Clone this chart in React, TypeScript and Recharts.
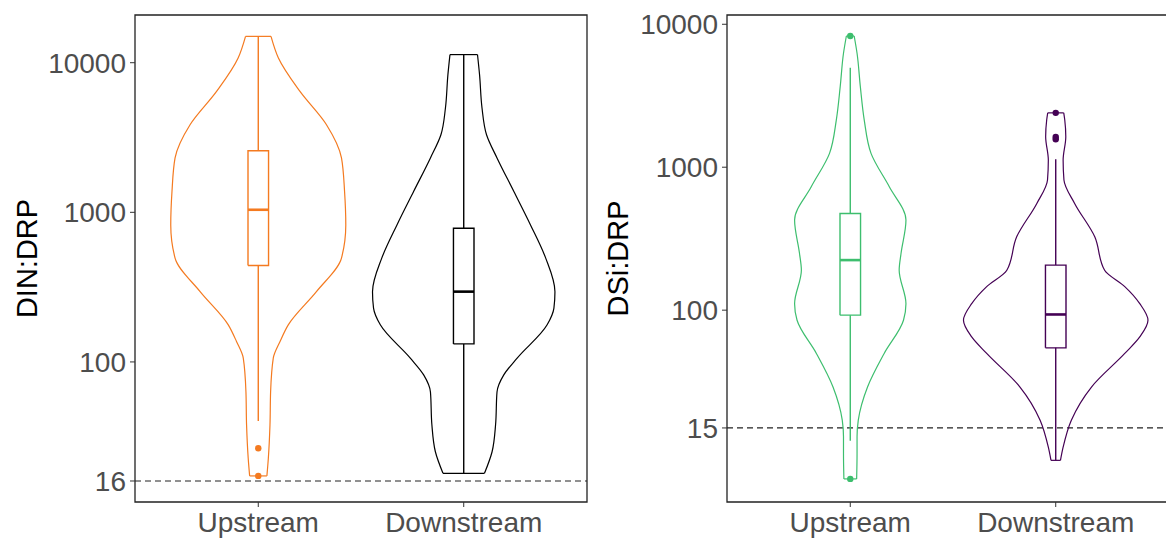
import React from "react"
import { ComposedChart, Scatter, XAxis, YAxis, ReferenceLine, ReferenceArea } from "recharts"

// category positions on the x axis
const categories = ["Upstream", "Downstream"]
const categoryPos = [1, 2]

// ---- DIN:DRP panel ----
const dinTicks = [16, 100, 1000, 10000]
const dinThreshold = 16
// violin outlines: ratio level -> half width (in category units)
const dinUpLevels = [17.3, 22.7, 38, 63, 106, 137, 177, 295, 494, 824, 1378, 2310, 3850, 6430, 10750, 15000]
const dinUpWidths = [0.042, 0.049, 0.057, 0.06, 0.073, 0.106, 0.146, 0.283, 0.405, 0.426, 0.42, 0.405, 0.332, 0.203, 0.098, 0.062]
const dinDownLevels = [18, 25.1, 38, 63, 81.9, 106, 177, 229, 295, 494, 824, 1378, 2310, 3300, 4980, 8320, 11330]
const dinDownWidths = [0.101, 0.138, 0.155, 0.162, 0.195, 0.26, 0.406, 0.439, 0.444, 0.399, 0.325, 0.244, 0.162, 0.111, 0.089, 0.077, 0.067]
// box stats: [lower whisker, q1, median, q3, upper whisker]
const dinUpBox = [40.3, 441, 1040, 2578, 15000]
const dinDownBox = [18, 132, 295, 783, 11330]
const dinUpOutliers = [26.5, 17.3]
const dinDownOutliers: number[] = []

// ---- DSi:DRP panel ----
const dsiTicks = [15, 100, 1000, 10000]
const dsiThreshold = 15
const dsiUpLevels = [6.6, 9.9, 13, 17, 29, 49.8, 85, 111, 190, 249, 427, 730, 1250, 2138, 3660, 6270, 8280]
const dsiUpWidths = [0.031, 0.033, 0.033, 0.039, 0.084, 0.165, 0.259, 0.271, 0.238, 0.247, 0.271, 0.19, 0.101, 0.068, 0.049, 0.033, 0.019]
const dsiDownLevels = [8.9, 11, 17, 29, 49.8, 65, 85, 111, 146, 190, 326, 558, 813, 1122, 1634, 2138, 2400]
const dsiDownWidths = [0.023, 0.036, 0.076, 0.174, 0.336, 0.409, 0.449, 0.409, 0.336, 0.238, 0.19, 0.092, 0.04, 0.036, 0.049, 0.044, 0.039]
const dsiUpBox = [12.2, 92.3, 224, 475, 4970]
const dsiDownBox = [8.9, 54.5, 93.3, 206.6, 1135]
const dsiUpOutliers = [8280, 6.6]
const dsiDownOutliers = [2400, 1570, 1630]

const FONT = "'Liberation Sans', Arial, sans-serif"
const BOX_HALF = 0.05
const noShape = () => <g />

function violinSeries(key: string, center: number, levels: number[], widths: number[], color: string) {
  const idx = levels.map((_, i) => i).reverse()
  const right = idx.map((i) => ({ x: center + widths[i], y: levels[i] }))
  const left = idx.map((i) => ({ x: center - widths[i], y: levels[i] }))
  const n = levels.length - 1
  const top = [{ x: center - widths[n], y: levels[n] }, { x: center + widths[n], y: levels[n] }]
  const bottom = [{ x: center - widths[0], y: levels[0] }, { x: center + widths[0], y: levels[0] }]
  const lineStyle = { stroke: color, strokeWidth: 1.2 }
  return [
    <Scatter key={key + "r"} data={right} line={lineStyle} lineJointType="monotoneY" shape={noShape} fill={color} isAnimationActive={false} />,
    <Scatter key={key + "l"} data={left} line={lineStyle} lineJointType="monotoneY" shape={noShape} fill={color} isAnimationActive={false} />,
    <Scatter key={key + "t"} data={top} line={lineStyle} shape={noShape} fill={color} isAnimationActive={false} />,
    <Scatter key={key + "b"} data={bottom} line={lineStyle} shape={noShape} fill={color} isAnimationActive={false} />,
  ]
}

function boxSeries(key: string, center: number, stats: number[], outliers: number[], color: string) {
  const [lo, q1, med, q3, hi] = stats
  const rect = [
    { x: center - BOX_HALF, y: q1 },
    { x: center + BOX_HALF, y: q1 },
    { x: center + BOX_HALF, y: q3 },
    { x: center - BOX_HALF, y: q3 },
    { x: center - BOX_HALF, y: q1 },
  ]
  const style = { stroke: color, strokeWidth: 1.4 }
  return [
    <Scatter key={key + "box"} data={rect} line={style} shape={noShape} fill={color} isAnimationActive={false} />,
    <Scatter key={key + "med"} data={[{ x: center - BOX_HALF, y: med }, { x: center + BOX_HALF, y: med }]} line={{ stroke: color, strokeWidth: 2.6 }} shape={noShape} fill={color} isAnimationActive={false} />,
    <Scatter key={key + "wu"} data={[{ x: center, y: q3 }, { x: center, y: hi }]} line={style} shape={noShape} fill={color} isAnimationActive={false} />,
    <Scatter key={key + "wl"} data={[{ x: center, y: lo }, { x: center, y: q1 }]} line={style} shape={noShape} fill={color} isAnimationActive={false} />,
    <Scatter key={key + "out"} data={outliers.map((v) => ({ x: center, y: v }))} fill={color} shape={(p: any) => <circle cx={p.cx} cy={p.cy} r={3.2} fill={color} />} isAnimationActive={false} />,
  ]
}

const AxisTitle = ({ viewBox, title, titleX }: any) => {
  const cy = viewBox ? viewBox.y + viewBox.height / 2 : 258
  return (
    <text x={titleX} y={cy} transform={`rotate(-90, ${titleX}, ${cy})`} textAnchor="middle" dominantBaseline="central" fontSize={29} fill="#000" fontFamily={FONT}>
      {title}
    </text>
  )
}

interface PanelProps {
  title: string
  titleX: number
  axisWidth: number
  domain: [number, number]
  ticks: number[]
  threshold: number
  children: React.ReactNode
}

function Panel({ title, titleX, axisWidth, domain, ticks, threshold, children }: PanelProps) {
  const tickStyle = { fontSize: 28, fill: "#4D4D4D", fontFamily: FONT }
  return (
    <ComposedChart width={600} height={539} margin={{ top: 15, right: 600 - axisWidth - 452, bottom: 0, left: 0 }}>
      <XAxis
        type="number"
        dataKey="x"
        domain={[0.4, 2.6]}
        ticks={categoryPos}
        tickFormatter={(v) => categories[categoryPos.indexOf(v)] ?? ""}
        allowDataOverflow
        height={37}
        axisLine={false}
        tickSize={5}
        tickMargin={5}
        tickLine={{ stroke: "#333333" }}
        tick={tickStyle}
      />
      <YAxis
        type="number"
        dataKey="y"
        scale="log"
        domain={domain}
        ticks={ticks}
        allowDataOverflow
        width={axisWidth}
        axisLine={false}
        tickSize={5}
        tickMargin={4}
        tickLine={{ stroke: "#333333" }}
        tick={tickStyle}
        label={<AxisTitle title={title} titleX={titleX} />}
      />
      <ReferenceArea x1={0.4} x2={2.6} y1={domain[0]} y2={domain[1]} fill="none" stroke="#222222" strokeWidth={1.3} />
      <ReferenceLine y={threshold} stroke="#222222" strokeWidth={1.2} strokeDasharray="6 4" />
      {children}
    </ComposedChart>
  )
}

export default function App() {
  return (
    <div style={{ position: "fixed", left: 0, top: 0, width: 1166, height: 539, overflow: "hidden", background: "#fff" }}>
      <div style={{ position: "absolute", left: 0, top: 0 }}>
        <Panel title="DIN:DRP" titleX={27} axisWidth={135} domain={[11.58, 20840]} ticks={dinTicks} threshold={dinThreshold}>
          {violinSeries("du", categoryPos[0], dinUpLevels, dinUpWidths, "#F47A20")}
          {violinSeries("dd", categoryPos[1], dinDownLevels, dinDownWidths, "#000000")}
          {boxSeries("du", categoryPos[0], dinUpBox, dinUpOutliers, "#F47A20")}
          {boxSeries("dd", categoryPos[1], dinDownBox, dinDownOutliers, "#000000")}
        </Panel>
      </div>
      <div style={{ position: "absolute", left: 590, top: 0 }}>
        <Panel title="DSi:DRP" titleX={28} axisWidth={137} domain={[4.55, 11610]} ticks={dsiTicks} threshold={dsiThreshold}>
          {violinSeries("su", categoryPos[0], dsiUpLevels, dsiUpWidths, "#3DBE6E")}
          {violinSeries("sd", categoryPos[1], dsiDownLevels, dsiDownWidths, "#440154")}
          {boxSeries("su", categoryPos[0], dsiUpBox, dsiUpOutliers, "#3DBE6E")}
          {boxSeries("sd", categoryPos[1], dsiDownBox, dsiDownOutliers, "#440154")}
        </Panel>
      </div>
    </div>
  )
}
